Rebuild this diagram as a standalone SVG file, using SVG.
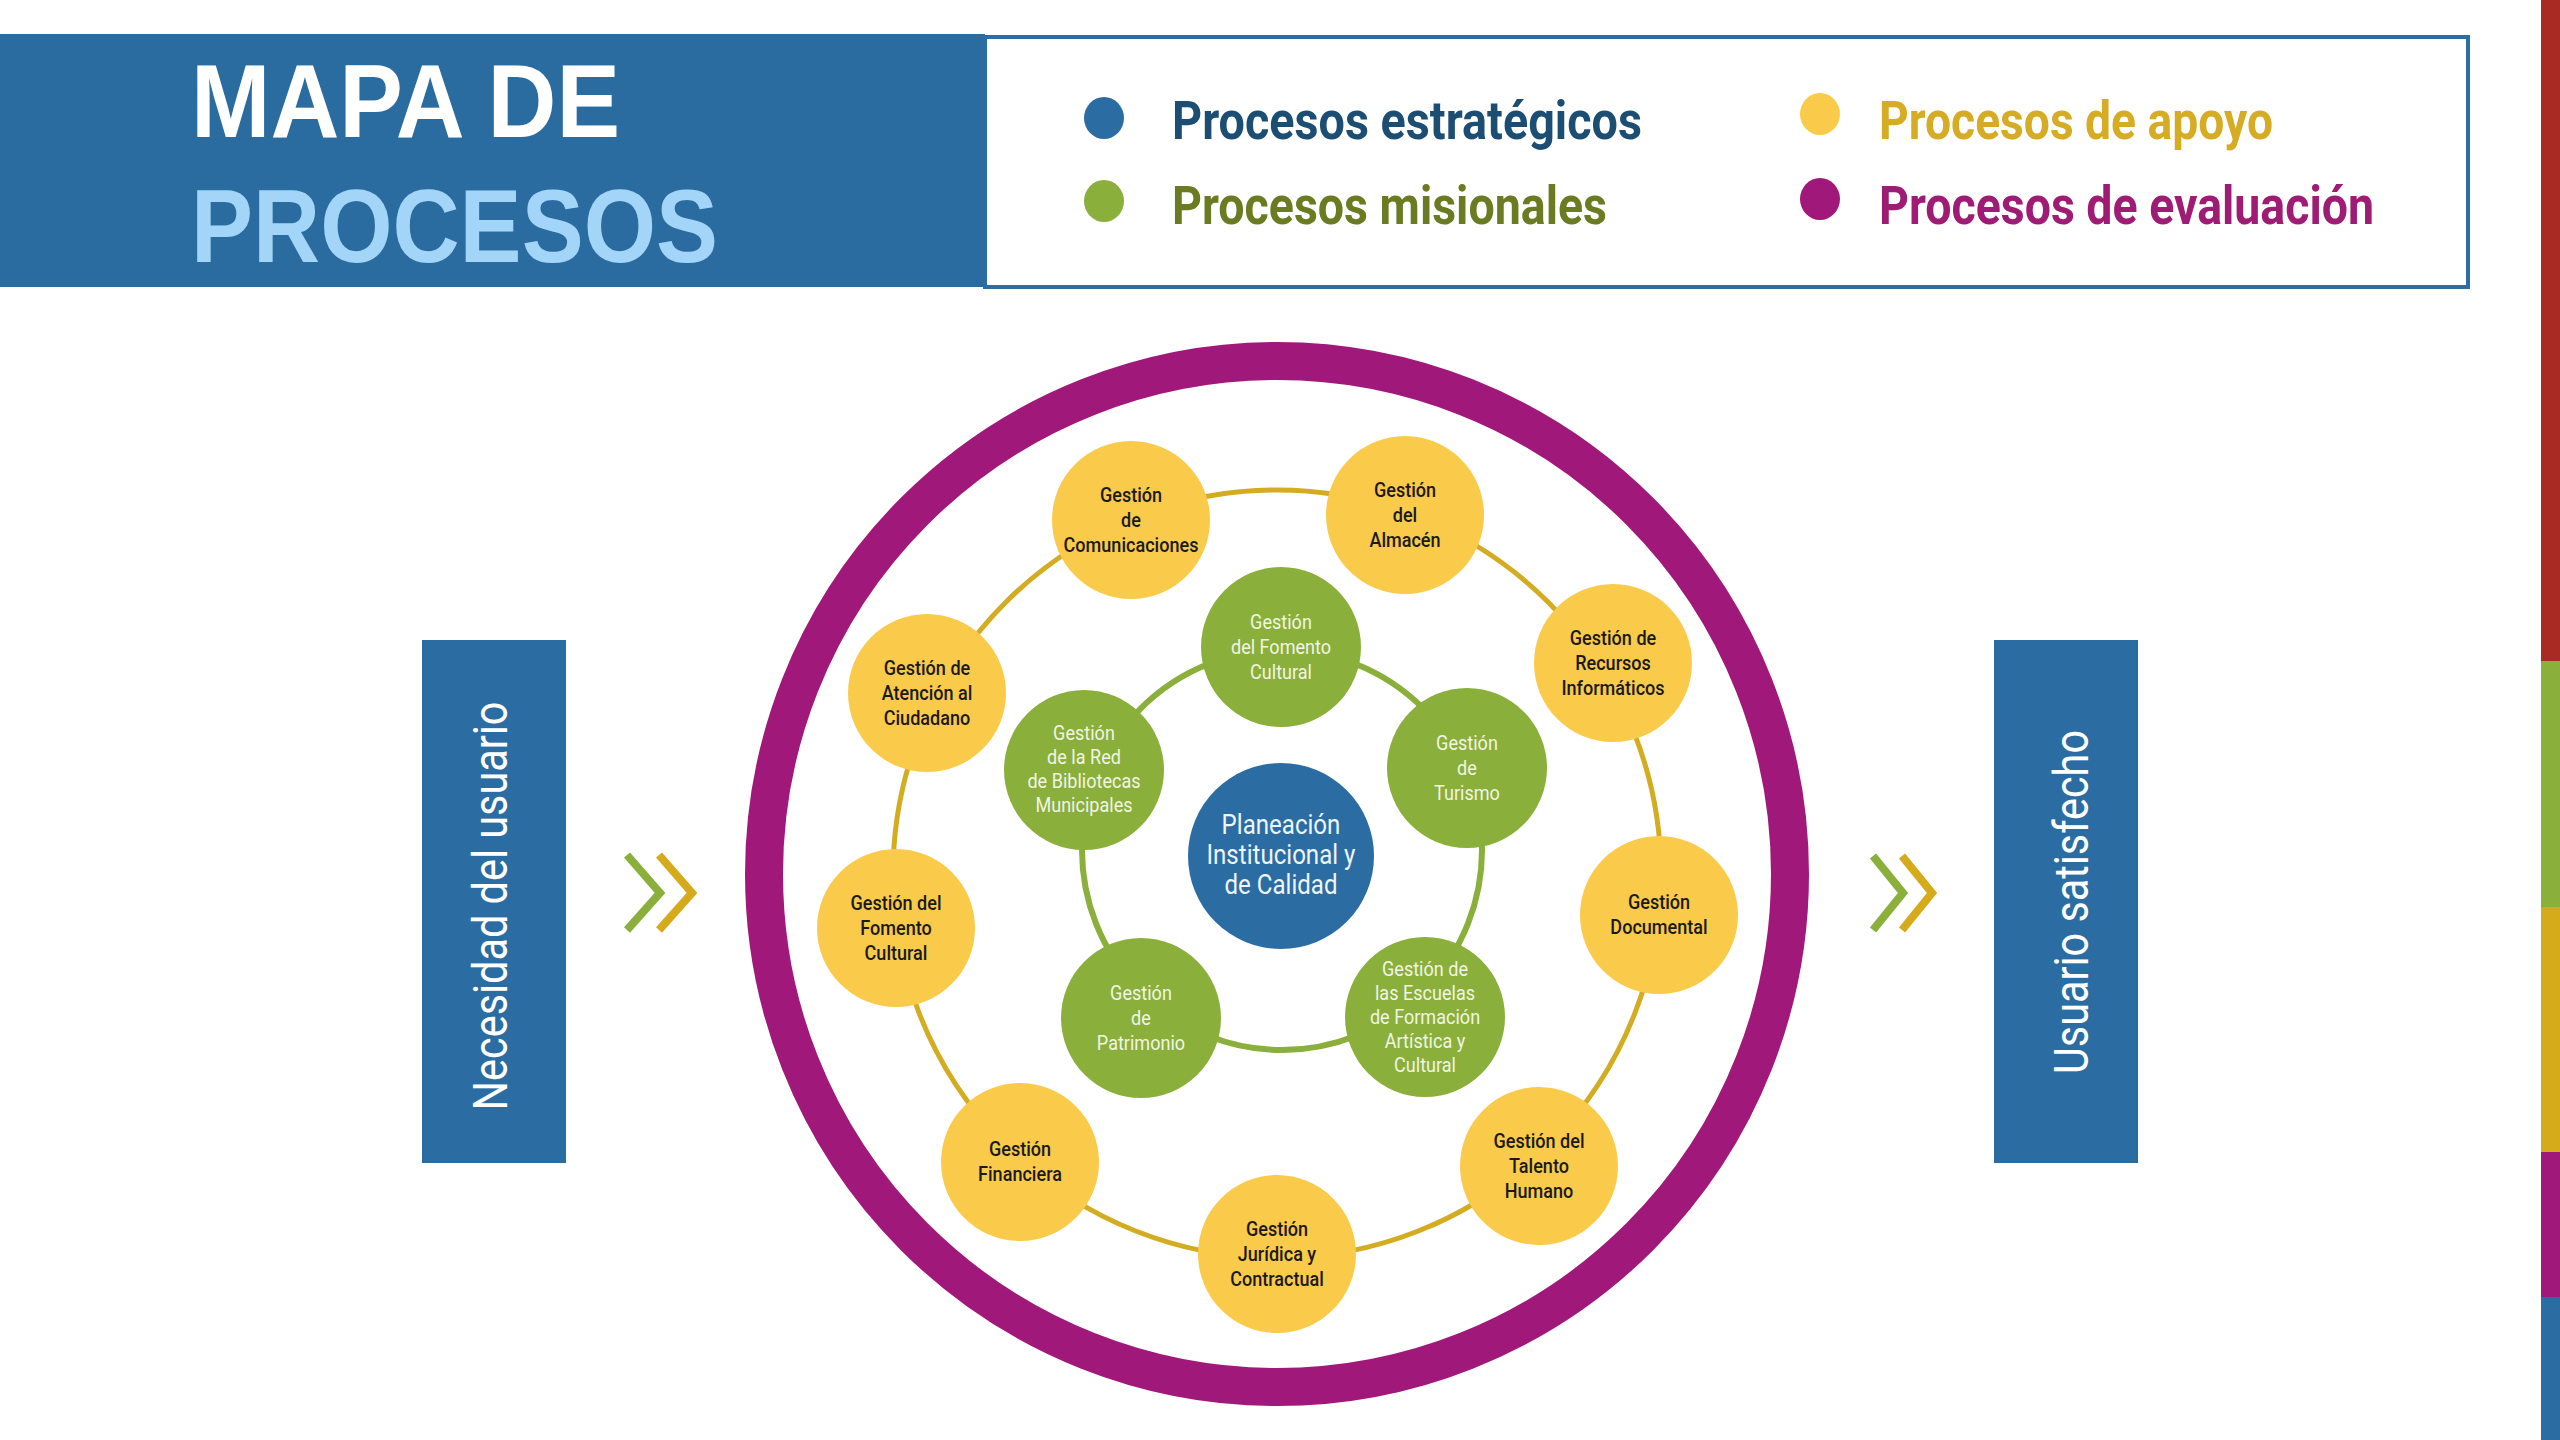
<svg xmlns="http://www.w3.org/2000/svg" width="2560" height="1440" viewBox="0 0 2560 1440">
  <style>
    .ny { fill: #FACB4B; }
    .ng { fill: #8AAF3A; }
    .nb { fill: #2B6CA3; }
    .ty { font-family: Roboto, "Liberation Sans", sans-serif; font-size: 21px; font-weight: 500; fill: #1A1A1A; text-anchor: middle; }
    .tg { font-family: Roboto, "Liberation Sans", sans-serif; font-size: 21px; font-weight: 400; fill: #F1F5E4; text-anchor: middle; }
    .tb { font-family: Roboto, "Liberation Sans", sans-serif; font-size: 28px; font-weight: 400; fill: #EEF5FB; text-anchor: middle; }
    .leg { font-family: Roboto, "Liberation Sans", sans-serif; font-size: 53px; font-weight: 700; }
    .title { font-family: "Liberation Sans", Arial, sans-serif; font-size: 103px; font-weight: 700; }
    .side { font-family: Roboto, "Liberation Sans", sans-serif; font-size: 49px; font-weight: 400; fill: #FFFFFF; text-anchor: middle; }
    .chev { fill: none; stroke-width: 8; stroke-linejoin: miter; }
  </style>

  <rect width="2560" height="1440" fill="#FFFFFF"/>

  <!-- right colour strip -->
  <g id="strip">
    <rect x="2541" y="0" width="19" height="661" fill="#A82A22"/>
    <rect x="2541" y="661" width="19" height="246" fill="#8AAF3A"/>
    <rect x="2541" y="907" width="19" height="245" fill="#D6AB1B"/>
    <rect x="2541" y="1152" width="19" height="145" fill="#A0197A"/>
    <rect x="2541" y="1297" width="19" height="143" fill="#2B6CA3"/>
  </g>

  <!-- header -->
  <g id="title">
    <rect x="0" y="34" width="985" height="253" fill="#2B6CA0"/>
    <text class="title" x="191" y="137" fill="#FFFFFF" textLength="429" lengthAdjust="spacingAndGlyphs">MAPA DE</text>
    <text class="title" x="191" y="262" fill="#A3D5F9" textLength="527" lengthAdjust="spacingAndGlyphs">PROCESOS</text>
  </g>

  <g id="legend">
    <rect x="985" y="37" width="1483" height="250" fill="#FFFFFF" stroke="#2E6DA4" stroke-width="4"/>
    <ellipse cx="1104" cy="118" rx="20" ry="21" fill="#2B6CA3"/>
    <text class="leg" x="1172" y="139" fill="#1C4E74" textLength="470" lengthAdjust="spacingAndGlyphs">Procesos estratégicos</text>
    <ellipse cx="1104" cy="201" rx="20" ry="21" fill="#8AAF3A"/>
    <text class="leg" x="1172" y="224" fill="#6B7B22" textLength="435" lengthAdjust="spacingAndGlyphs">Procesos misionales</text>
    <ellipse cx="1820" cy="114" rx="20" ry="21" fill="#FACB4B"/>
    <text class="leg" x="1879" y="139" fill="#D6AC24" textLength="394" lengthAdjust="spacingAndGlyphs">Procesos de apoyo</text>
    <ellipse cx="1820" cy="199" rx="20" ry="21" fill="#A0197A"/>
    <text class="leg" x="1879" y="224" fill="#9E1C74" textLength="495" lengthAdjust="spacingAndGlyphs">Procesos de evaluación</text>
  </g>

  <!-- side boxes -->
  <g id="necesidad">
    <rect x="422" y="640" width="144" height="523" fill="#2B6CA3"/>
    <text class="side" transform="translate(507,906) rotate(-90)" x="0" y="0" textLength="409" lengthAdjust="spacingAndGlyphs">Necesidad del usuario</text>
  </g>
  <g id="satisfecho">
    <rect x="1994" y="640" width="144" height="523" fill="#2B6CA3"/>
    <text class="side" transform="translate(2088,902) rotate(-90)" x="0" y="0" textLength="344" lengthAdjust="spacingAndGlyphs">Usuario satisfecho</text>
  </g>

  <!-- evaluation ring -->
  <g id="evaluacion">
    <circle cx="1277" cy="874" r="513" fill="none" stroke="#A0197A" stroke-width="38"/>
  </g>

  <!-- connectors -->
  <g id="connectors">
    <circle cx="1277" cy="874" r="384" fill="none" stroke="#D4AC22" stroke-width="5"/>
    <circle cx="1282" cy="850" r="200" fill="none" stroke="#8AAF3A" stroke-width="6"/>
    <polyline class="chev" stroke="#8AAF3A" points="627,855 660,893 627,930"/>
    <polyline class="chev" stroke="#D6AB1B" points="659,855 692,893 659,930"/>
    <polyline class="chev" stroke="#8AAF3A" points="1873,856 1903,893 1873,930"/>
    <polyline class="chev" stroke="#D6AB1B" points="1902,856 1932,893 1902,930"/>
  </g>

  <!-- support processes (yellow) -->
  <g id="comunicaciones" transform="translate(1131,520)">
    <circle class="ny" r="79"/>
    <text class="ty" transform="scale(0.86,1)"><tspan x="0" y="-18">Gestión</tspan><tspan x="0" y="7">de</tspan><tspan x="0" y="32">Comunicaciones</tspan></text>
  </g>
  <g id="almacen" transform="translate(1405,515)">
    <circle class="ny" r="79"/>
    <text class="ty" transform="scale(0.86,1)"><tspan x="0" y="-18">Gestión</tspan><tspan x="0" y="7">del</tspan><tspan x="0" y="32">Almacén</tspan></text>
  </g>
  <g id="recursos" transform="translate(1613,663)">
    <circle class="ny" r="79"/>
    <text class="ty" transform="scale(0.86,1)"><tspan x="0" y="-18">Gestión de</tspan><tspan x="0" y="7">Recursos</tspan><tspan x="0" y="32">Informáticos</tspan></text>
  </g>
  <g id="documental" transform="translate(1659,915)">
    <circle class="ny" r="79"/>
    <text class="ty" transform="scale(0.86,1)"><tspan x="0" y="-6">Gestión</tspan><tspan x="0" y="19">Documental</tspan></text>
  </g>
  <g id="talento" transform="translate(1539,1166)">
    <circle class="ny" r="79"/>
    <text class="ty" transform="scale(0.86,1)"><tspan x="0" y="-18">Gestión del</tspan><tspan x="0" y="7">Talento</tspan><tspan x="0" y="32">Humano</tspan></text>
  </g>
  <g id="juridica" transform="translate(1277,1254)">
    <circle class="ny" r="79"/>
    <text class="ty" transform="scale(0.86,1)"><tspan x="0" y="-18">Gestión</tspan><tspan x="0" y="7">Jurídica y</tspan><tspan x="0" y="32">Contractual</tspan></text>
  </g>
  <g id="financiera" transform="translate(1020,1162)">
    <circle class="ny" r="79"/>
    <text class="ty" transform="scale(0.86,1)"><tspan x="0" y="-6">Gestión</tspan><tspan x="0" y="19">Financiera</tspan></text>
  </g>
  <g id="fomento-apoyo" transform="translate(896,928)">
    <circle class="ny" r="79"/>
    <text class="ty" transform="scale(0.86,1)"><tspan x="0" y="-18">Gestión del</tspan><tspan x="0" y="7">Fomento</tspan><tspan x="0" y="32">Cultural</tspan></text>
  </g>
  <g id="atencion" transform="translate(927,693)">
    <circle class="ny" r="79"/>
    <text class="ty" transform="scale(0.86,1)"><tspan x="0" y="-18">Gestión de</tspan><tspan x="0" y="7">Atención al</tspan><tspan x="0" y="32">Ciudadano</tspan></text>
  </g>

  <!-- missional processes (green) -->
  <g id="fomento-cultural" transform="translate(1281,647)">
    <circle class="ng" r="80"/>
    <text class="tg" transform="scale(0.86,1)"><tspan x="0" y="-18">Gestión</tspan><tspan x="0" y="7">del Fomento</tspan><tspan x="0" y="32">Cultural</tspan></text>
  </g>
  <g id="turismo" transform="translate(1467,768)">
    <circle class="ng" r="80"/>
    <text class="tg" transform="scale(0.86,1)"><tspan x="0" y="-18">Gestión</tspan><tspan x="0" y="7">de</tspan><tspan x="0" y="32">Turismo</tspan></text>
  </g>
  <g id="escuelas" transform="translate(1425,1017)">
    <circle class="ng" r="80"/>
    <text class="tg" transform="scale(0.86,1)"><tspan x="0" y="-41">Gestión de</tspan><tspan x="0" y="-17">las Escuelas</tspan><tspan x="0" y="7">de Formación</tspan><tspan x="0" y="31">Artística y</tspan><tspan x="0" y="55">Cultural</tspan></text>
  </g>
  <g id="patrimonio" transform="translate(1141,1018)">
    <circle class="ng" r="80"/>
    <text class="tg" transform="scale(0.86,1)"><tspan x="0" y="-18">Gestión</tspan><tspan x="0" y="7">de</tspan><tspan x="0" y="32">Patrimonio</tspan></text>
  </g>
  <g id="bibliotecas" transform="translate(1084,770)">
    <circle class="ng" r="80"/>
    <text class="tg" transform="scale(0.86,1)"><tspan x="0" y="-30">Gestión</tspan><tspan x="0" y="-6">de la Red</tspan><tspan x="0" y="18">de Bibliotecas</tspan><tspan x="0" y="42">Municipales</tspan></text>
  </g>

  <!-- strategic process (blue) -->
  <g id="planeacion" transform="translate(1281,856)">
    <circle class="nb" r="93"/>
    <text class="tb" transform="scale(0.86,1)"><tspan x="0" y="-22">Planeación</tspan><tspan x="0" y="8">Institucional y</tspan><tspan x="0" y="38">de Calidad</tspan></text>
  </g>
</svg>
